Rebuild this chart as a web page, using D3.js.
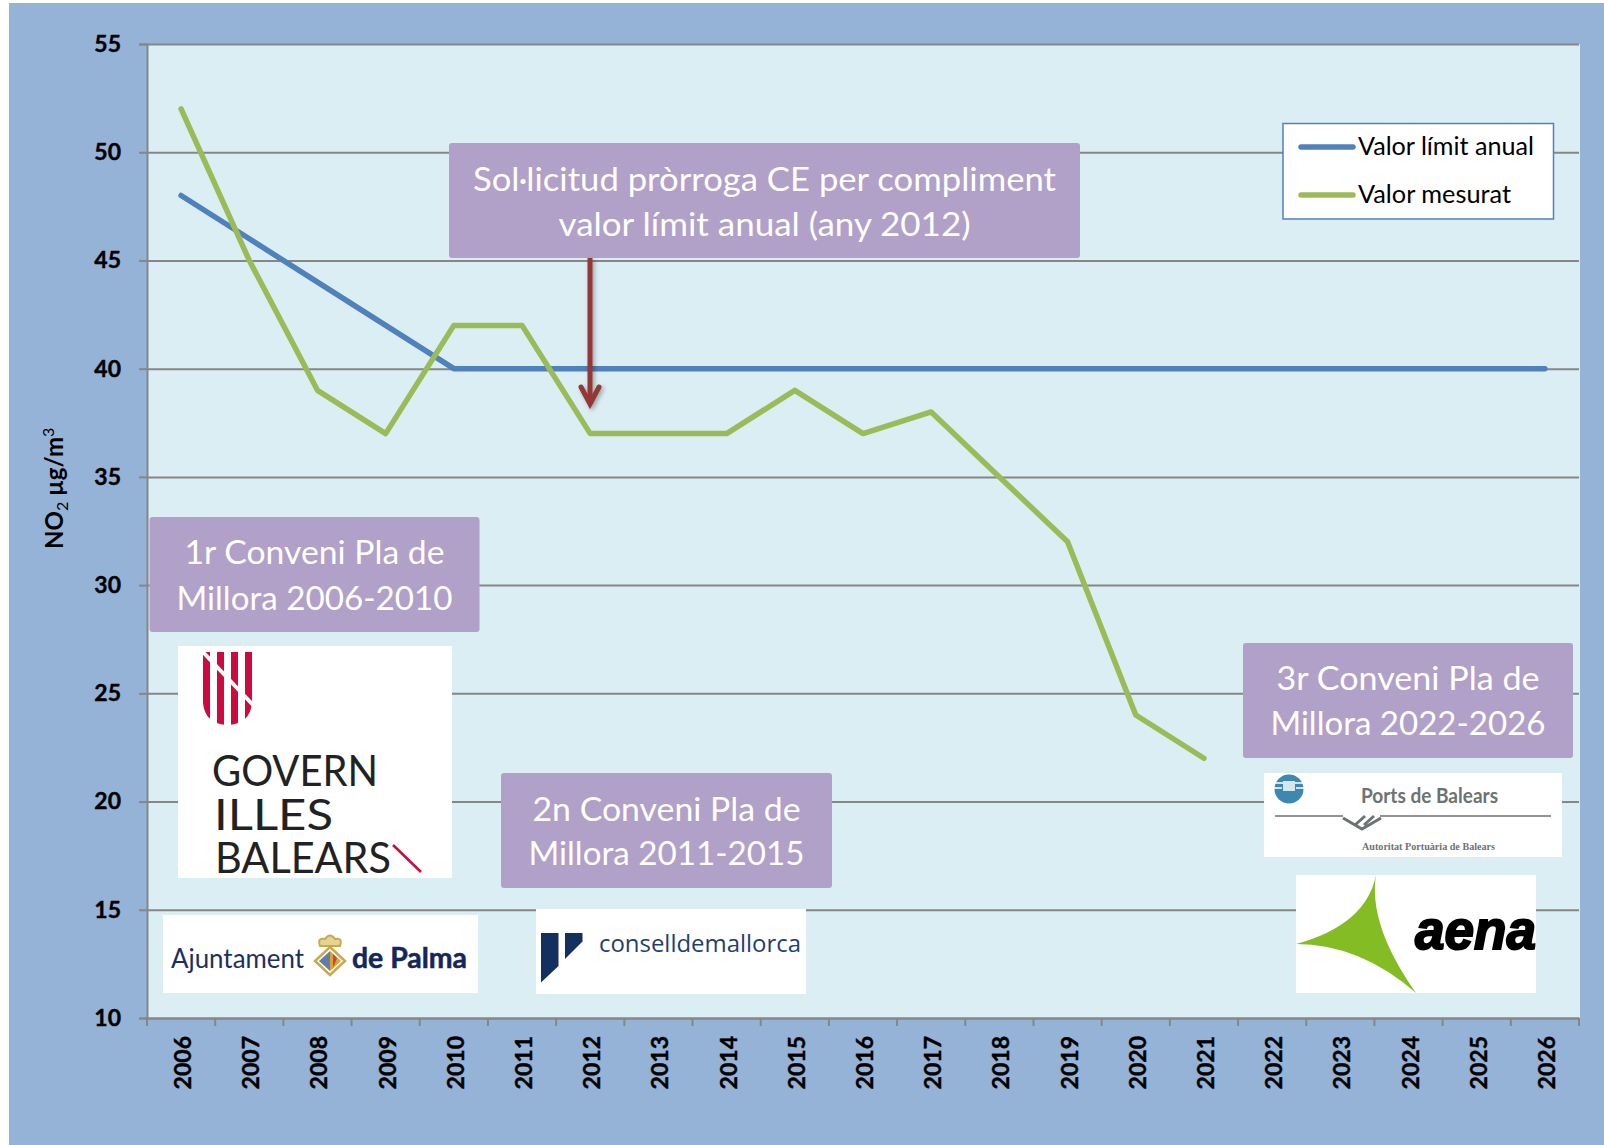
<!DOCTYPE html>
<html>
<head>
<meta charset="utf-8">
<script src="https://cdn.jsdelivr.net/npm/d3@7/dist/d3.min.js"></script>
<style>
    html, body { margin: 0; padding: 0; background: #fff; }
    svg { display: block; }
    text { font-family: Lato, Carlito, sans-serif; }
</style>
</head>
<body>
<div id="chart"></div>
<script>
const years = ["2006", "2007", "2008", "2009", "2010", "2011", "2012", "2013", "2014", "2015", "2016",
    "2017", "2018", "2019", "2020", "2021", "2022", "2023", "2024", "2025", "2026"];
const limitValues = [48, 46, 44, 42, 40, 40, 40, 40, 40, 40, 40, 40, 40, 40, 40, 40, 40, 40, 40, 40, 40];
const measuredValues = [52, 45, 39, 37, 42, 42, 37, 37, 37, 39, 37, 38, 35, 32, 24, 22];
const yTicks = [10, 15, 20, 25, 30, 35, 40, 45, 50, 55];
const seriesNames = ["Valor límit anual", "Valor mesurat"];
const seriesColors = ["#4f81bd", "#9bbb59"];
const requestLines = ["Sol·licitud pròrroga CE per compliment", "valor límit anual (any 2012)"];
const firstPlanLines = ["1r Conveni Pla de", "Millora 2006-2010"];
const secondPlanLines = ["2n Conveni Pla de", "Millora 2011-2015"];
const thirdPlanLines = ["3r Conveni Pla de", "Millora 2022-2026"];

const width = 1604, height = 1145;
const margin = { left: 147, right: 1579, top: 44, bottom: 1018 };

const svg = d3.select("#chart").append("svg")
    .attr("width", width)
    .attr("height", height);

// background panel + plot area
svg.append("rect").attr("x", 9).attr("y", 3).attr("width", width - 9).attr("height", height - 3).attr("fill", "#95b3d7");
svg.append("rect").attr("x", margin.left).attr("y", margin.top)
    .attr("width", margin.right - margin.left + 1).attr("height", margin.bottom - margin.top)
    .attr("fill", "#dbeef4");

const x = d3.scaleBand().domain(years).range([margin.left, margin.right]);
const y = d3.scaleLinear().domain([10, 55]).range([margin.bottom, margin.top]);

// y axis with the gridlines
const yAxis = svg.append("g")
    .attr("transform", `translate(${margin.left}, 0)`)
    .call(d3.axisLeft(y).tickValues(yTicks).tickSize(8).tickPadding(18));
yAxis.selectAll(".tick").append("line")
    .attr("x1", 0).attr("x2", margin.right - margin.left);
yAxis.selectAll("line").attr("stroke", "#868686").attr("stroke-width", 2);
yAxis.select(".domain").attr("stroke", "#868686").attr("stroke-width", 2);
yAxis.selectAll("text")
    .attr("font-family", "Lato, sans-serif")
    .attr("font-size", 23)
    .attr("font-weight", 700)
    .attr("stroke", "#000")
    .attr("stroke-width", 0.4)
    .attr("fill", "#000");

// x axis, ticks sit between the categories so they are drawn from the band edges
const xAxis = svg.append("g")
    .attr("transform", `translate(0, ${margin.bottom})`)
    .call(d3.axisBottom(x).tickSize(0).tickSizeOuter(0));
xAxis.select(".domain").attr("stroke", "#868686").attr("stroke-width", 2);
xAxis.selectAll("text")
    .attr("font-family", "Lato, sans-serif")
    .attr("font-size", 23)
    .attr("font-weight", 700)
    .attr("stroke", "#000")
    .attr("stroke-width", 0.4)
    .attr("fill", "#000")
    .attr("text-anchor", "end")
    .attr("dy", null)
    .attr("dominant-baseline", "central")
    .attr("transform", "translate(1, 18) rotate(-90)")
    .attr("y", 0);
xAxis.selectAll("line.edge")
    .data(years.map(d => x(d)).concat([margin.right]))
    .join("line")
    .attr("class", "edge")
    .attr("x1", d => d).attr("x2", d => d)
    .attr("y1", 0).attr("y2", 8)
    .attr("stroke", "#868686")
    .attr("stroke-width", 2);

// axis title
const yTitle = svg.append("text")
    .attr("transform", "translate(63, 549) rotate(-90)")
    .attr("font-size", 24)
    .attr("font-weight", 700)
    .attr("fill", "#000");
yTitle.append("tspan").text("NO");
yTitle.append("tspan").text("2").attr("font-size", 16).attr("dy", 5).attr("font-weight", 400);
yTitle.append("tspan").text(" µg/m").attr("dy", -5);
yTitle.append("tspan").text("3").attr("font-size", 16).attr("dy", -9).attr("font-weight", 400);

// series
const line = d3.line()
    .x((d, i) => x(years[i]) + x.bandwidth() / 2)
    .y(d => y(d));

[limitValues, measuredValues].forEach((values, i) => {
    svg.append("path")
        .attr("d", line(values))
        .attr("fill", "none")
        .attr("stroke", seriesColors[i])
        .attr("stroke-width", 5.5)
        .attr("stroke-linecap", "round")
        .attr("stroke-linejoin", "round");
});

// legend
const legendWidths = [176, 153];
svg.append("rect").attr("x", 1283).attr("y", 123.5).attr("width", 270.5).attr("height", 95.5)
    .attr("fill", "#fff").attr("stroke", "#4f81bd").attr("stroke-width", 1.5);
seriesNames.forEach((name, i) => {
    let ly = 147 + i * 48;
    svg.append("line").attr("x1", 1301).attr("x2", 1353).attr("y1", ly).attr("y2", ly)
        .attr("stroke", seriesColors[i]).attr("stroke-width", 5.5).attr("stroke-linecap", "round");
    svg.append("text").attr("x", 1358).attr("y", ly + 8)
        .attr("font-size", 24.5).attr("fill", "#000")
        .attr("textLength", legendWidths[i])
        .attr("lengthAdjust", "spacingAndGlyphs")
        .text(name);
});

function callout(x0, y0, x1, y1, lines, baselines, lengths) {
    svg.append("rect").attr("x", x0).attr("y", y0).attr("width", x1 - x0).attr("height", y1 - y0)
        .attr("rx", 3).attr("fill", "#b1a0c7");
    lines.forEach((t, i) => {
        svg.append("text")
            .attr("x", (x0 + x1) / 2).attr("y", baselines[i])
            .attr("text-anchor", "middle")
            .attr("font-size", 33)
            .attr("fill", "#fff")
            .attr("textLength", lengths[i])
            .attr("lengthAdjust", "spacingAndGlyphs")
            .text(t);
    });
}

callout(449, 143, 1080, 258, requestLines, [191, 236], [583, 412]);
callout(149.5, 517, 479.5, 632, firstPlanLines, [564, 610], [260, 276]);
callout(501, 773, 832, 888, secondPlanLines, [821, 865], [268, 276]);
callout(1243, 643, 1573, 758, thirdPlanLines, [690, 735], [263, 275]);

// arrow from the request box
const arrow = svg.append("g").style("filter", "drop-shadow(2px 2px 2px rgba(0,0,0,0.3))");
arrow.append("line").attr("x1", 590).attr("x2", 590).attr("y1", 258).attr("y2", 402)
    .attr("stroke", "#953735").attr("stroke-width", 5);
arrow.append("path").attr("d", "M581,387 L590,404 L599,387")
    .attr("fill", "none").attr("stroke", "#953735").attr("stroke-width", 5)
    .attr("stroke-linecap", "round").attr("stroke-linejoin", "miter");

function logoBox(x0, y0, x1, y1) {
    svg.append("rect").attr("x", x0).attr("y", y0).attr("width", x1 - x0).attr("height", y1 - y0).attr("fill", "#fff");
}

function logoText(str, x0, x1, baseline, size, fill, opts = {}) {
    return svg.append("text")
        .attr("x", x0).attr("y", baseline)
        .attr("font-size", size)
        .attr("fill", fill)
        .attr("font-weight", opts.weight ?? 400)
        .attr("font-style", opts.style ?? "normal")
        .attr("textLength", x1 - x0)
        .attr("lengthAdjust", "spacingAndGlyphs")
        .style("font-family", opts.family ?? "Lato, sans-serif")
        .text(str);
}

// Govern logo
logoBox(178, 646, 452, 878);
const defs = svg.append("defs");
defs.append("clipPath").attr("id", "shield").append("path")
    .attr("d", "M203,652 H252 V703 Q250,724 227.500,725 Q205,724 203,703 Z");
const shield = svg.append("g").attr("clip-path", "url(#shield)");
[203, 217, 231, 245].forEach(bx => {
    shield.append("rect").attr("x", bx).attr("y", 650).attr("width", 7).attr("height", 78).attr("fill", "#cc0a3f");
});
svg.append("line").attr("x1", 201).attr("y1", 650).attr("x2", 254).attr("y2", 706)
    .attr("stroke", "#fff").attr("stroke-width", 4);
logoText("GOVERN", 212, 378, 786, 43, "#222");
logoText("ILLES", 214, 333, 830, 43, "#222");
logoText("BALEARS", 215, 391, 873, 43, "#222");
svg.append("line").attr("x1", 393).attr("y1", 845).attr("x2", 421).attr("y2", 872)
    .attr("stroke", "#cc0a3f").attr("stroke-width", 2.5);

// Palma logo
logoBox(163, 915, 478, 993);
logoText("Ajuntament", 171, 304, 968, 27, "#1d2f5f");
logoText("de Palma", 352, 467, 968, 28, "#14275a", { weight: 700 }).attr("stroke", "#14275a").attr("stroke-width", 0.5);
svg.append("path").attr("d", "M330,947 L345,961 L330,975 L315,961 Z").attr("fill", "#fff").attr("stroke", "#c9a94e").attr("stroke-width", 2.5);
svg.append("path").attr("d", "M330,951 L330,971 L319,961 Z").attr("fill", "#5f7ea8");
svg.append("path").attr("d", "M330,951 L341,961 L330,971 Z").attr("fill", "#e0a030");
svg.append("path").attr("d", "M333,954 L337,958 L333,968 Z").attr("fill", "#c8483a");
svg.append("path").attr("d", "M320,946 Q317,937 325,939 Q330,932 335,939 Q343,937 340,946 Z")
    .attr("fill", "#e6d391").attr("stroke", "#c9a94e").attr("stroke-width", 2);

// Consell logo
logoBox(536, 909, 806, 994);
svg.append("path").attr("d", "M541,933 H558.500 V966 L541,982.500 Z").attr("fill", "#12315f");
svg.append("path").attr("d", "M565,933 H582.500 V941.500 L565,959 Z").attr("fill", "#12315f");
logoText("conselldemallorca", 599, 801, 952, 24, "#1f3f6e", { family: "'Open Sans', sans-serif" });

// Ports logo
logoBox(1264, 773, 1562, 857);
svg.append("circle").attr("cx", 1289).attr("cy", 789).attr("r", 14.5).attr("fill", "#3d88b0");
svg.append("path").attr("d", "M1275,783 H1284 M1274,788 H1282 M1294,783 H1303 M1296,788 H1304")
    .attr("stroke", "#fff").attr("stroke-width", 1.5);
svg.append("rect").attr("x", 1283).attr("y", 781).attr("width", 12).attr("height", 10).attr("fill", "#d5e6ee");
logoText("Ports de Balears", 1361, 1498, 803, 21, "#6d7273", { weight: 700 });
svg.append("path").attr("d", "M1275,816 H1343 M1380,816 H1551").attr("stroke", "#6d7273").attr("stroke-width", 1.5).attr("fill", "none");
svg.append("path").attr("d", "M1343,818 L1362,829 L1381,818 M1355,825 L1365,816 M1364,825 L1374,816")
    .attr("stroke", "#6d7273").attr("stroke-width", 3).attr("fill", "none");
logoText("Autoritat Portuària de Balears", 1362, 1495, 850, 10.5, "#6d7273", { weight: 700, family: "'Liberation Serif', serif" });

// Aena logo
logoBox(1296, 875, 1536, 993);
svg.append("path")
    .attr("d", "M1376,875 Q1366,925 1296,944 Q1360,944 1416,993 Q1368,925 1376,875 Z")
    .attr("fill", "#84bd23");
logoText("aena", 1415, 1536, 949, 55, "#000", { weight: 700, style: "italic", family: "'Liberation Sans', sans-serif" })
    .attr("stroke", "#000").attr("stroke-width", 2);
</script>
</body>
</html>
